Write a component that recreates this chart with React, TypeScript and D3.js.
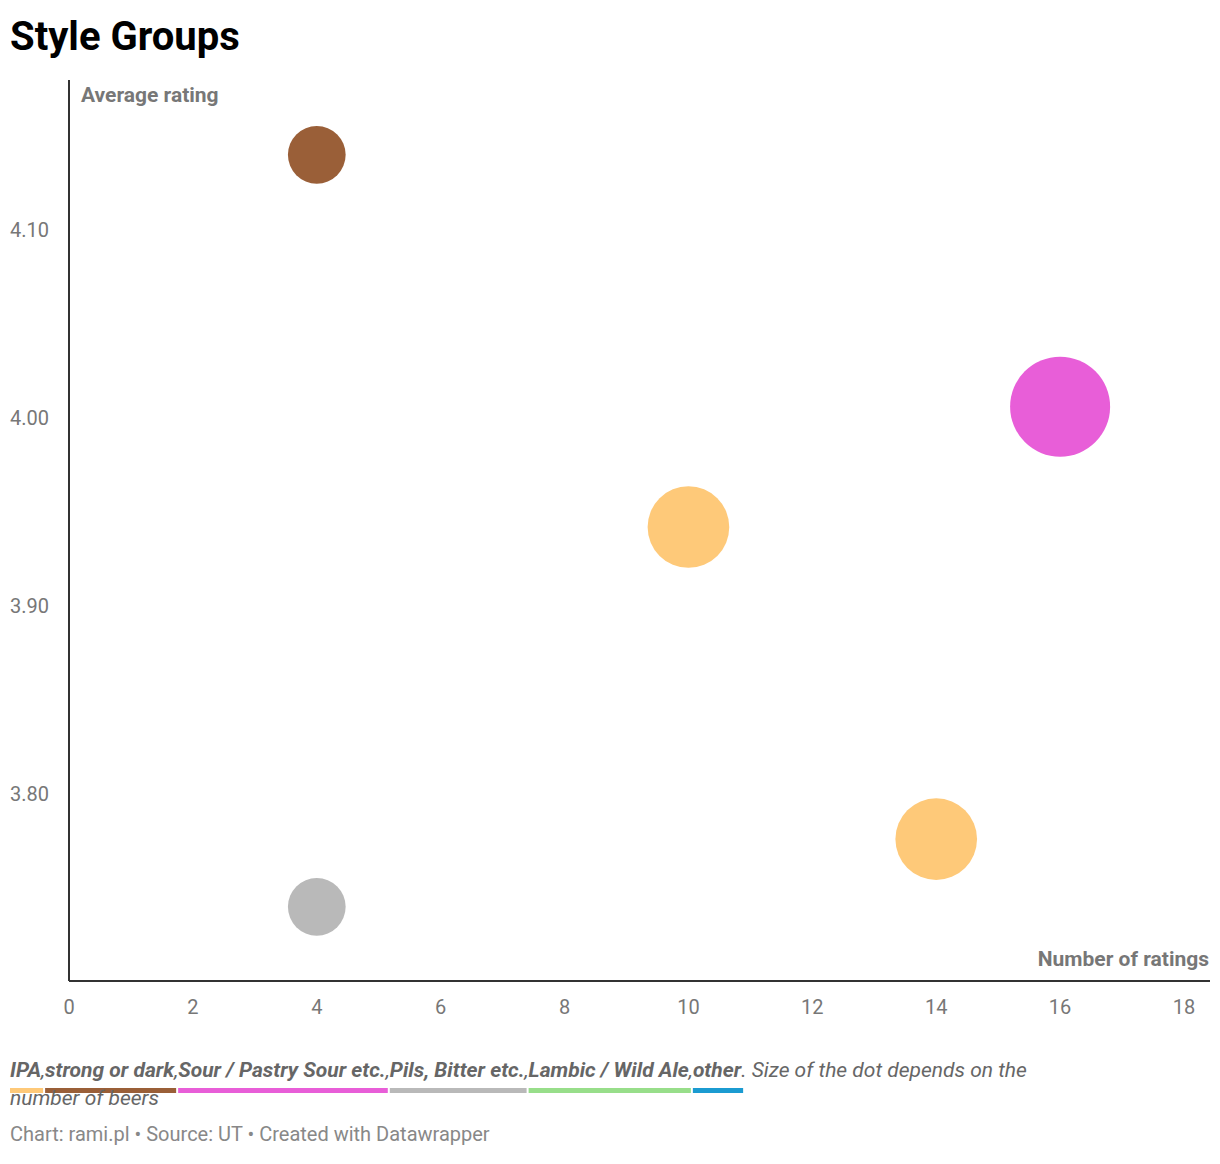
import React, { useEffect, useRef } from 'react';
import * as d3 from 'd3';

const groups = ['IPA', 'strong or dark', 'Sour / Pastry Sour etc.', 'Pils, Bitter etc.', 'Lambic / Wild Ale', 'other'];
const groupColors = ['#fec979', '#9a5f38', '#e85ed8', '#b9b9b9', '#98de8a', '#1b9bd1'];

const pointGroup = ['strong or dark', 'Pils, Bitter etc.', 'IPA', 'IPA', 'Sour / Pastry Sour etc.'];
const pointRatings = [4, 4, 10, 14, 16];
const pointAverage = [4.14, 3.74, 3.942, 3.776, 4.006];
const pointBeers = [1, 1, 2, 2, 3];

const xTicks = [0, 2, 4, 6, 8, 10, 12, 14, 16, 18];
const yTicks = [3.8, 3.9, 4.0, 4.1];

const W = 1204;
const H = 1150;

const App: React.FC = () => {
  const ref = useRef<SVGSVGElement | null>(null);

  useEffect(() => {
    if (!ref.current) return;
    const svg = d3.select(ref.current);
    svg.selectAll('*').remove();
    const font = 'Roboto, sans-serif';

    svg.append('text').attr('x', 2).attr('y', 42).attr('font-family', font)
      .attr('font-weight', 700).attr('font-size', 40).attr('fill', '#000').text('Style Groups');

    const x = d3.scaleLinear().domain([0, 18]).range([61, 1176]);
    const y = d3.scaleLinear().domain([3.8, 4.1]).range([786, 222]);
    const r = d3.scaleSqrt().domain([0, 3]).range([0, 50]);
    const color = d3.scaleOrdinal<string, string>().domain(groups).range(groupColors);

    // axis lines
    svg.append('line').attr('x1', 61).attr('x2', 61).attr('y1', 72).attr('y2', 973)
      .attr('stroke', '#333').attr('stroke-width', 2);
    svg.append('line').attr('x1', 61).attr('x2', 1202).attr('y1', 973).attr('y2', 973)
      .attr('stroke', '#333').attr('stroke-width', 2);

    svg.append('g').selectAll('text').data(yTicks).enter().append('text')
      .attr('x', 2).attr('y', d => y(d) + 7).attr('font-family', font).attr('font-size', 20)
      .attr('fill', '#777').text(d => d.toFixed(2));

    svg.append('g').selectAll('text').data(xTicks).enter().append('text')
      .attr('x', d => x(d)).attr('y', 1006).attr('text-anchor', 'middle').attr('font-family', font)
      .attr('font-size', 20).attr('fill', '#777').text(d => d);

    svg.append('text').attr('x', 73).attr('y', 94).attr('font-family', font).attr('font-weight', 700)
      .attr('font-size', 21).attr('fill', '#777').text('Average rating');
    svg.append('text').attr('x', 1201).attr('y', 958).attr('text-anchor', 'end').attr('font-family', font)
      .attr('font-weight', 700).attr('font-size', 21).attr('fill', '#777').text('Number of ratings');

    const idx = d3.range(pointRatings.length).sort((a, b) => pointBeers[b] - pointBeers[a]);
    svg.append('g').selectAll('circle').data(idx).enter().append('circle')
      .attr('cx', i => x(pointRatings[i])).attr('cy', i => y(pointAverage[i]))
      .attr('r', i => r(pointBeers[i])).attr('fill', i => color(pointGroup[i]));

    // legend
    const legend = svg.append('g').attr('font-family', font).attr('font-size', 21)
      .attr('font-style', 'italic').style('white-space', 'pre');
    let cx = 2;
    const ly = 1069;
    groups.forEach((g, i) => {
      const t = legend.append('text').attr('x', cx).attr('y', ly).attr('font-weight', 700)
        .attr('fill', '#666').text(g);
      const w = (t.node() as SVGTextElement).getComputedTextLength();
      legend.append('rect').attr('x', cx).attr('y', 1080).attr('width', w + 2).attr('height', 5)
        .attr('fill', groupColors[i]);
      cx += w;
      const sep = legend.append('text').attr('x', cx).attr('y', ly).attr('fill', '#666')
        .text(i < groups.length - 1 ? ', ' : '. Size of the dot depends on the');
      cx += (sep.node() as SVGTextElement).getComputedTextLength();
    });
    legend.append('text').attr('x', 2).attr('y', 1097).attr('fill', '#666').text('number of beers');

    svg.append('text').attr('x', 2).attr('y', 1133).attr('font-family', font).attr('font-size', 20)
      .attr('fill', '#888').text('Chart: rami.pl • Source: UT • Created with Datawrapper');
  }, []);

  return <svg ref={ref} width={W} height={H} style={{ display: 'block' }} />;
};

export default App;
